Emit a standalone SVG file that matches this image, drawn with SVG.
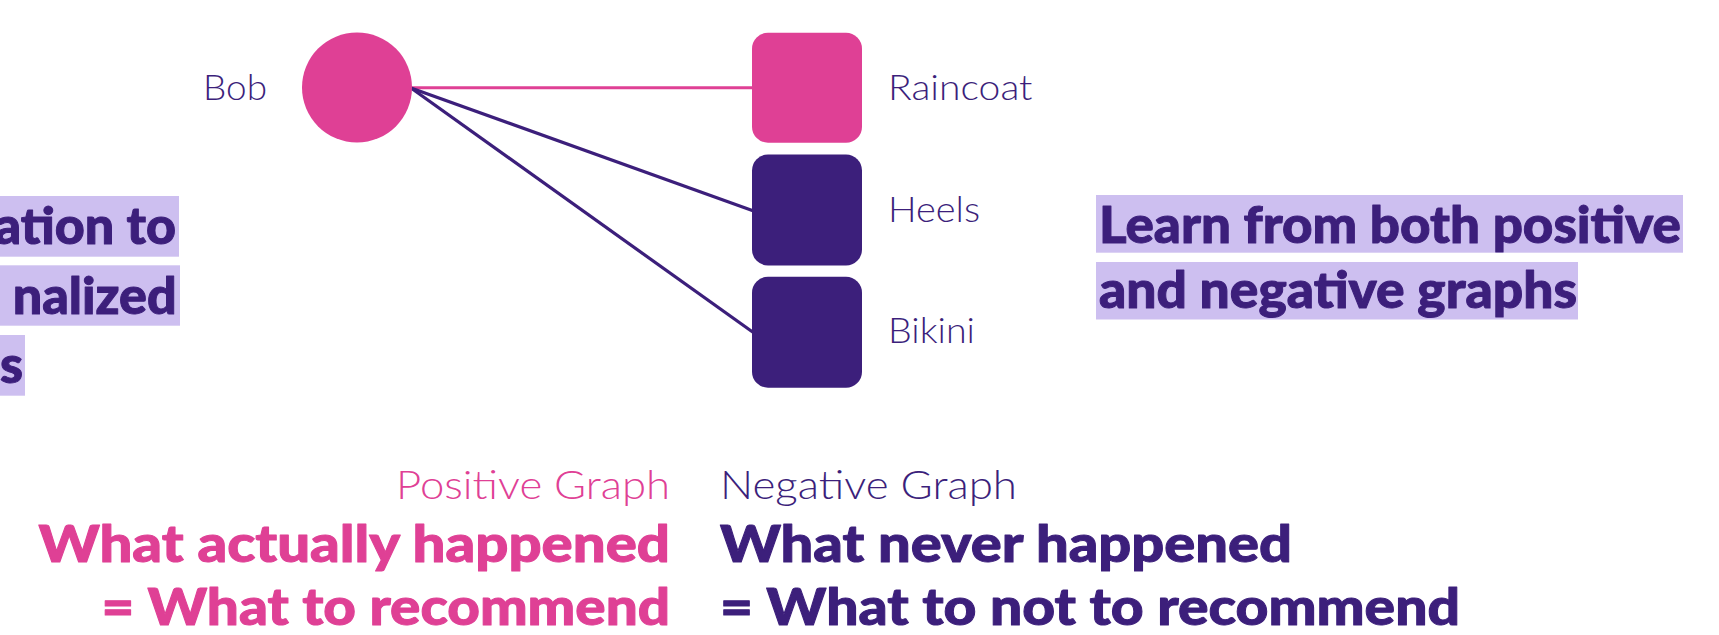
<svg xmlns="http://www.w3.org/2000/svg" width="1719" height="635" viewBox="0 0 1719 635">
<style>
.pink{fill:#DF4095}
.purple{fill:#3C1F7B}
.hl{fill:#CDBFF0}
.lbl{font-family:Lato,"Open Sans","Liberation Sans",sans-serif;font-weight:300;font-size:35px;fill:#3C1F7B}
.sub{font-family:Lato,"Open Sans","Liberation Sans",sans-serif;font-weight:300;font-size:40px}
.big{font-family:Lato,"Liberation Sans",sans-serif;font-weight:900;font-size:52px;stroke-width:1;stroke-linejoin:round}
.big.pink{stroke:#DF4095}
.big.purple{stroke:#3C1F7B}
.edge-pos{stroke:#DF4095;stroke-width:3;fill:none}
.edge-neg{stroke:#3C1F7B;stroke-width:3.2;fill:none}
</style>
<rect width="1719" height="635" fill="#ffffff"/>
<g id="connectors">
<line class="edge-pos" x1="412" y1="87.7" x2="753" y2="87.7"/>
<line class="edge-neg" x1="411" y1="88" x2="753" y2="210.7"/>
<line class="edge-neg" x1="411" y1="88" x2="753" y2="332.3"/>
</g>
<g id="node-bob">
<circle class="pink" cx="357" cy="87.5" r="55"/>
<text class="lbl" x="203" y="99.5" textLength="64" lengthAdjust="spacingAndGlyphs">Bob</text>
</g>
<g id="node-raincoat">
<rect class="pink" x="752" y="32.7" width="110" height="110" rx="16"/>
<text class="lbl" x="888" y="99.5" textLength="144.5" lengthAdjust="spacingAndGlyphs">Raincoat</text>
</g>
<g id="node-heels">
<rect class="purple" x="752" y="154.5" width="110" height="111" rx="16"/>
<text class="lbl" x="888" y="221.7" textLength="92" lengthAdjust="spacingAndGlyphs">Heels</text>
</g>
<g id="node-bikini">
<rect class="purple" x="752" y="276.7" width="110" height="111" rx="16"/>
<text class="lbl" x="888" y="343.3" textLength="87" lengthAdjust="spacingAndGlyphs">Bikini</text>
</g>
<g id="left-note">
<rect class="hl" x="0" y="196" width="179" height="60.7"/>
<rect class="hl" x="0" y="265.3" width="180" height="60.4"/>
<rect class="hl" x="0" y="335" width="25" height="60.7"/>
<text class="big purple" x="176" y="244" text-anchor="end">ation to</text>
<text class="big purple" x="176.7" y="313.5" text-anchor="end">nalized</text>
<text class="big purple" x="23" y="383.3" text-anchor="end">s</text>
</g>
<g id="right-note">
<rect class="hl" x="1096" y="195" width="587" height="57.7"/>
<rect class="hl" x="1096" y="262" width="482" height="57.5"/>
<text class="big purple" x="1099" y="242.7" textLength="582" lengthAdjust="spacingAndGlyphs">Learn from both positive</text>
<text class="big purple" x="1099" y="308.3" textLength="478" lengthAdjust="spacingAndGlyphs">and negative graphs</text>
</g>
<g id="positive-caption">
<text class="sub pink" x="396" y="499.3" textLength="274" lengthAdjust="spacingAndGlyphs">Positive Graph</text>
<text class="big pink" x="38.5" y="561.7" textLength="631.5" lengthAdjust="spacingAndGlyphs">What actually happened</text>
<text class="big pink" x="101.5" y="625" textLength="568.5" lengthAdjust="spacingAndGlyphs">= What to recommend</text>
</g>
<g id="negative-caption">
<text class="sub purple" x="720" y="499.3" textLength="297" lengthAdjust="spacingAndGlyphs">Negative Graph</text>
<text class="big purple" x="720" y="561.7" textLength="572" lengthAdjust="spacingAndGlyphs">What never happened</text>
<text class="big purple" x="720" y="625" textLength="740" lengthAdjust="spacingAndGlyphs">= What to not to recommend</text>
</g>
</svg>
